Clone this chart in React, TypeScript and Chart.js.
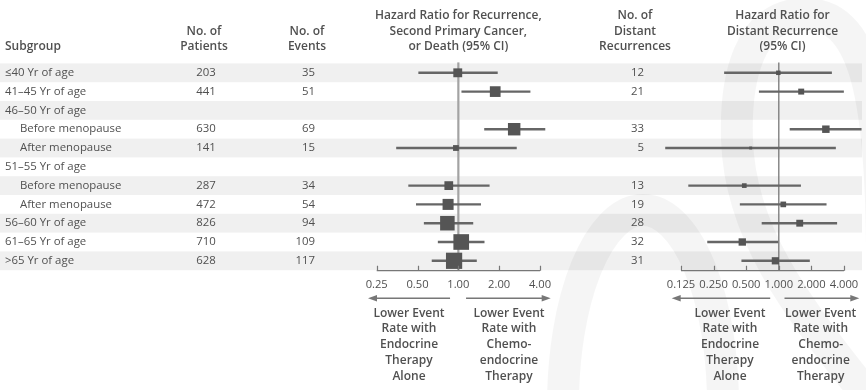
import React, { useEffect, useRef } from "react";
import { Chart, registerables } from "chart.js";
Chart.register(...registerables);

// ---------- data ----------
const subgroups = [
  "≤40 Yr of age", "41–45 Yr of age", "46–50 Yr of age", "Before menopause", "After menopause",
  "51–55 Yr of age", "Before menopause", "After menopause", "56–60 Yr of age", "61–65 Yr of age", ">65 Yr of age",
];
const indented = [false, false, false, true, true, false, true, true, false, false, false];
const patients = [203, 441, null, 630, 141, null, 287, 472, 826, 710, 628];
const events = [35, 51, null, 69, 15, null, 34, 54, 94, 109, 117];
const hrRecurrence = [0.99, 1.87, null, 2.58, 0.96, null, 0.85, 0.84, 0.83, 1.05, 0.93];
const lowerRecurrence = [0.51, 1.06, null, 1.56, 0.35, null, 0.43, 0.49, 0.56, 0.71, 0.64];
const upperRecurrence = [1.94, 3.38, null, 4.35, 2.68, null, 1.69, 1.46, 1.28, 1.55, 1.36];
const distantRecurrences = [12, 21, null, 33, 5, null, 13, 19, 28, 32, 31];
const hrDistant = [0.99, 1.61, null, 2.72, 0.55, null, 0.48, 1.1, 1.56, 0.46, 0.93];
const lowerDistant = [0.315, 0.66, null, 1.27, 0.09, null, 0.147, 0.44, 0.7, 0.22, 0.455];
const upperDistant = [3.07, 3.96, null, 5.77, 3.34, null, 1.59, 2.74, 3.43, 0.98, 1.92];
const ticksRecurrence = [0.25, 0.5, 1, 2, 4];
const tickLabelsRecurrence = ["0.25", "0.50", "1.00", "2.00", "4.00"];
const ticksDistant = [0.125, 0.25, 0.5, 1, 2, 4];
const tickLabelsDistant = ["0.125", "0.250", "0.500", "1.000", "2.000", "4.000"];
const headerRecurrence = ["Hazard Ratio for Recurrence,", "Second Primary Cancer,", "or Death (95% CI)"];
const headerDistant = ["Hazard Ratio for", "Distant Recurrence", "(95% CI)"];
const captionLeft = ["Lower Event", "Rate with", "Endocrine", "Therapy", "Alone"];
const captionRight = ["Lower Event", "Rate with", "Chemo-", "endocrine", "Therapy"];

// ---------- style ----------
const FONT = '"Open Sans", sans-serif';
const TEXT = "#505050";
const H = 390;
const ROW_TOP = 63.4;
const ROW_BOTTOM = 270.2;
const HEAD_Y = [15.5, 31.5, 47];
const CAP_Y = [313.3, 328.8, 344.6, 360.6, 376.5];

function watermark(ctx: CanvasRenderingContext2D, ox: number) {
  ctx.save();
  ctx.translate(-ox, 0);
  ctx.strokeStyle = "rgba(0,0,0,0.04)";
  ctx.lineWidth = 32;
  ctx.lineCap = "butt";
  ctx.beginPath();
  ctx.ellipse(643, 405, 80, 195, 0, Math.PI, 2 * Math.PI);
  ctx.stroke();
  ctx.beginPath();
  ctx.moveTo(882, 260);
  ctx.bezierCurveTo(882, 80, 860, 14, 805, 14);
  ctx.bezierCurveTo(748, 14, 735, 80, 737, 140);
  ctx.bezierCurveTo(740, 230, 790, 300, 875, 405);
  ctx.stroke();
  ctx.restore();
}

function arrow(ctx: CanvasRenderingContext2D, x0: number, x1: number, y: number) {
  const d = Math.sign(x1 - x0);
  ctx.save();
  ctx.strokeStyle = "#777";
  ctx.fillStyle = "#777";
  ctx.lineWidth = 1.5;
  ctx.beginPath();
  ctx.moveTo(x0, y);
  ctx.lineTo(x1 - d * 6, y);
  ctx.stroke();
  ctx.beginPath();
  ctx.moveTo(x1, y);
  ctx.lineTo(x1 - d * 9, y - 3.2);
  ctx.lineTo(x1 - d * 9, y + 3.2);
  ctx.closePath();
  ctx.fill();
  ctx.restore();
}

function lines(ctx: CanvasRenderingContext2D, arr: string[], x: number, ys: number[]) {
  arr.forEach((s, i) => ctx.fillText(s, x, ys[i]));
}

type Panel = {
  offsetX: number;
  min: number;
  max: number;
  padLeft: number;
  padRight: number;
  hr: (number | null)[];
  lo: (number | null)[];
  hi: (number | null)[];
  counts: (number | null)[];
  k: number;
  ticks: number[];
  tickLabels: string[];
  refColor: string;
  refWidth: number;
  stripeRight: number;
  arrowOff: [number, number, number, number];
  capX: [number, number];
  drawText: (ctx: CanvasRenderingContext2D, x: any, y: any) => void;
};

function makeChart(canvas: HTMLCanvasElement, p: Panel) {
  const points: any[] = [];
  const bars: any[] = [];
  p.hr.forEach((v, i) => {
    if (v == null) return;
    points.push({ x: v, y: i + 1, n: p.counts[i] });
    bars.push({ x: [p.lo[i], p.hi[i]], y: i + 1 });
  });

  const plugin = {
    id: "forest",
    beforeDraw(chart: any) {
      const ctx = chart.ctx;
      const y = chart.scales.y;
      ctx.save();
      ctx.fillStyle = "#ffffff";
      ctx.fillRect(0, 0, chart.width, chart.height);
      ctx.fillStyle = "#f0f0f0";
      for (let r = 1; r <= subgroups.length; r += 2) {
        const y0 = y.getPixelForValue(r - 0.5);
        const y1 = y.getPixelForValue(r + 0.5);
        ctx.fillRect(0, y0, p.stripeRight, y1 - y0);
      }
      ctx.restore();
      watermark(ctx, p.offsetX);
    },
    beforeDatasetsDraw(chart: any) {
      const ctx = chart.ctx;
      const x = chart.scales.x;
      const a = chart.chartArea;
      const x1 = x.getPixelForValue(1);
      ctx.save();
      ctx.strokeStyle = p.refColor;
      ctx.lineWidth = p.refWidth;
      ctx.beginPath();
      ctx.moveTo(x1, a.top - 1);
      ctx.lineTo(x1, a.bottom);
      ctx.stroke();
      ctx.restore();
    },
    afterDraw(chart: any) {
      const ctx = chart.ctx;
      const x = chart.scales.x;
      const y = chart.scales.y;
      const a = chart.chartArea;
      ctx.save();
      // axis
      const ay = a.bottom + 0.5;
      ctx.strokeStyle = "#777";
      ctx.lineWidth = 1.2;
      ctx.beginPath();
      ctx.moveTo(x.getPixelForValue(p.min), ay);
      ctx.lineTo(x.getPixelForValue(p.max), ay);
      p.ticks.forEach((t) => {
        const tx = Math.round(x.getPixelForValue(t)) + 0.5;
        ctx.moveTo(tx, ay);
        ctx.lineTo(tx, ay - 5);
      });
      ctx.stroke();
      ctx.fillStyle = TEXT;
      ctx.font = `400 11.2px ${FONT}`;
      ctx.textAlign = "center";
      ctx.textBaseline = "middle";
      p.ticks.forEach((t, i) => ctx.fillText(p.tickLabels[i], x.getPixelForValue(t), 285));
      // arrows
      const c = x.getPixelForValue(1);
      arrow(ctx, c - p.arrowOff[0], x.getPixelForValue(p.min) - p.arrowOff[1], 298.3);
      arrow(ctx, c + p.arrowOff[2], x.getPixelForValue(p.max) + p.arrowOff[3], 298.3);
      ctx.font = `600 12px ${FONT}`;
      ctx.fillStyle = TEXT;
      lines(ctx, captionLeft, p.capX[0], CAP_Y);
      lines(ctx, captionRight, p.capX[1], CAP_Y);
      p.drawText(ctx, x, y);
      ctx.restore();
    },
  };

  return new Chart(canvas, {
    type: "bar",
    data: {
      datasets: [
        {
          type: "scatter",
          data: points,
          pointStyle: "rect",
          pointRadius: (c: any) => (c.raw ? (p.k * Math.sqrt(c.raw.n)) / Math.SQRT2 : 0),
          backgroundColor: "#555555",
          borderWidth: 0,
          order: 0,
          clip: false,
        } as any,
        {
          type: "bar",
          data: bars,
          backgroundColor: "#666666",
          barThickness: 1.7,
          order: 1,
          clip: false,
        } as any,
      ],
    },
    options: {
      indexAxis: "y",
      animation: false,
      responsive: false,
      events: [],
      layout: { padding: { left: p.padLeft, right: p.padRight, top: ROW_TOP, bottom: H - ROW_BOTTOM } },
      scales: {
        x: { type: "logarithmic", min: p.min, max: p.max, display: false, bounds: "data", offset: false } as any,
        y: { type: "linear", min: 0.5, max: subgroups.length + 0.5, reverse: true, display: false, offset: false, grace: 0 } as any,
      },
      plugins: { legend: { display: false }, tooltip: { enabled: false } },
    },
    plugins: [plugin],
  } as any);
}

export default function App() {
  const refA = useRef<HTMLCanvasElement>(null);
  const refB = useRef<HTMLCanvasElement>(null);

  useEffect(() => {
    const chartA = makeChart(refA.current!, {
      offsetX: 0,
      min: 0.25,
      max: 4,
      padLeft: 376.7,
      padRight: 60,
      hr: hrRecurrence,
      lo: lowerRecurrence,
      hi: upperRecurrence,
      counts: events,
      k: 1.5,
      ticks: ticksRecurrence,
      tickLabels: tickLabelsRecurrence,
      refColor: "#a3a3a3",
      refWidth: 2.2,
      stripeRight: 600,
      arrowOff: [8.3, 8.7, 7.7, 10.7],
      capX: [409, 509],
      drawText(ctx, x, y) {
        ctx.fillStyle = TEXT;
        ctx.font = `600 12px ${FONT}`;
        ctx.textBaseline = "middle";
        ctx.textAlign = "left";
        ctx.fillText("Subgroup", 5, HEAD_Y[2]);
        ctx.textAlign = "center";
        lines(ctx, ["No. of", "Patients"], 204, HEAD_Y.slice(1));
        lines(ctx, ["No. of", "Events"], 307, HEAD_Y.slice(1));
        lines(ctx, headerRecurrence, x.getPixelForValue(1), HEAD_Y);
        ctx.font = `400 11.4px ${FONT}`;
        subgroups.forEach((s, i) => {
          const yy = y.getPixelForValue(i + 1);
          ctx.textAlign = "left";
          ctx.fillText(s, indented[i] ? 20 : 5, yy);
          if (patients[i] != null) {
            ctx.textAlign = "center";
            ctx.fillText(String(patients[i]), 206, yy);
          }
          if (events[i] != null) {
            ctx.textAlign = "right";
            ctx.fillText(String(events[i]), 315, yy);
          }
        });
      },
    });
    const chartB = makeChart(refB.current!, {
      offsetX: 600,
      min: 0.125,
      max: 4,
      padLeft: 81,
      padRight: 22,
      hr: hrDistant,
      lo: lowerDistant,
      hi: upperDistant,
      counts: distantRecurrences,
      k: 1.3,
      ticks: ticksDistant,
      tickLabels: tickLabelsDistant,
      refColor: "#777777",
      refWidth: 1.3,
      stripeRight: 262,
      arrowOff: [8.6, 9.3, 5.7, 15.3],
      capX: [130, 220.7],
      drawText(ctx, x, y) {
        ctx.fillStyle = TEXT;
        ctx.font = `600 12px ${FONT}`;
        ctx.textBaseline = "middle";
        ctx.textAlign = "center";
        lines(ctx, ["No. of", "Distant", "Recurrences"], 35, HEAD_Y);
        lines(ctx, headerDistant, 182.5, HEAD_Y);
        ctx.font = `400 11.4px ${FONT}`;
        ctx.textAlign = "right";
        distantRecurrences.forEach((v, i) => {
          if (v != null) ctx.fillText(String(v), 44, y.getPixelForValue(i + 1));
        });
      },
    });
    return () => {
      chartA.destroy();
      chartB.destroy();
    };
  }, []);

  return (
    <div style={{ position: "fixed", left: 0, top: 0, width: 866, height: H, background: "#fff" }}>
      <canvas ref={refA} width={600} height={H} style={{ position: "absolute", left: 0, top: 0, width: 600, height: H }} />
      <canvas ref={refB} width={266} height={H} style={{ position: "absolute", left: 600, top: 0, width: 266, height: H }} />
    </div>
  );
}
